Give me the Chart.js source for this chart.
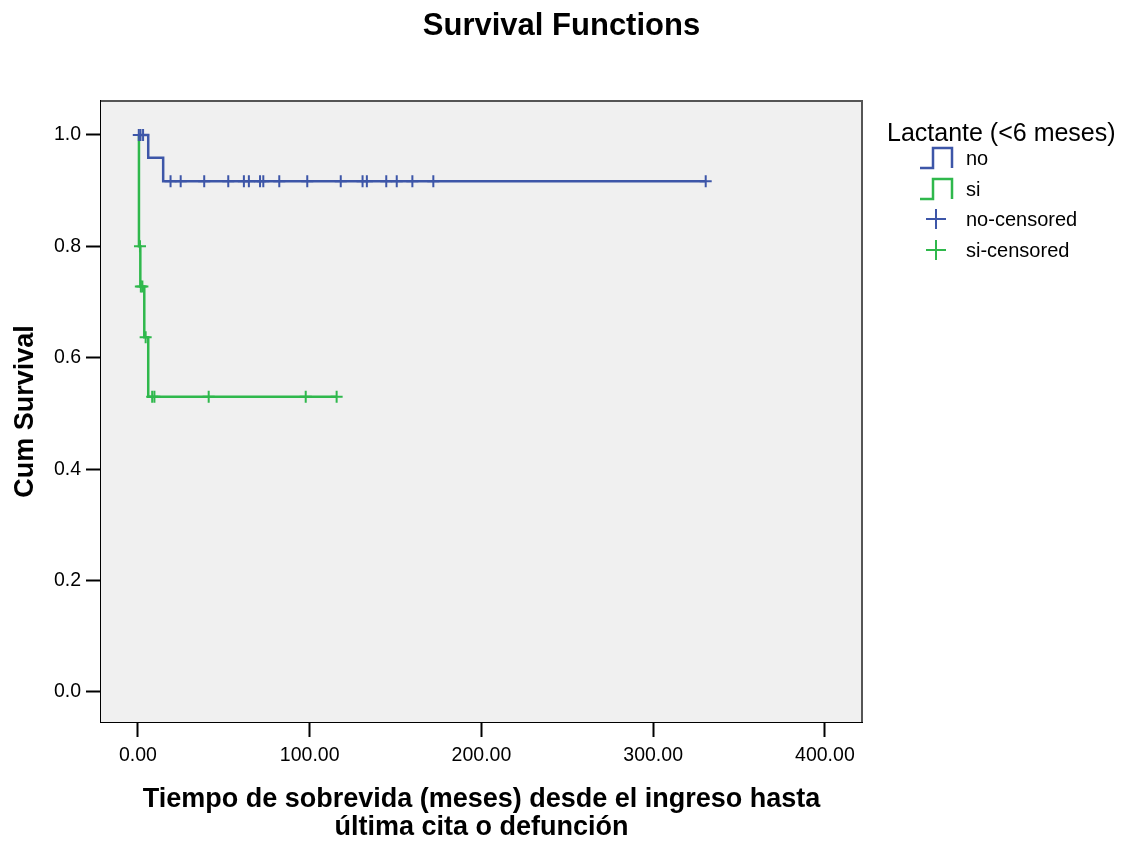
<!DOCTYPE html>
<html>
<head>
<meta charset="utf-8">
<script src="https://cdn.jsdelivr.net/npm/chart.js@4"></script>
<style>
body { margin: 0; background: #fff; }
#wrap { position: relative; width: 1123px; height: 847px; font-family: 'Liberation Sans', Arial, sans-serif; }
#legend { position: absolute; left: 887px; top: 0; color: #000; }
#legend .ttl { position: absolute; left: 0; top: 116px; font-size: 25px; line-height: 32px; white-space: nowrap; }
#legend .row { position: absolute; left: 31px; height: 30px; display: flex; align-items: center; font-size: 20px; white-space: nowrap; }
#legend svg { width: 48px; height: 30px; display: block; }
</style>
</head>
<body>
<div id="wrap">
  <canvas id="km" width="1123" height="847"></canvas>
  <div id="legend"></div>
</div>
<script>
// Kaplan-Meier step points (time, survival after the step)
const noStepTime = [0, 6.0, 14.7, 330.6];
const noStepSurv = [1.0, 0.959, 0.917, 0.917];
const siStepTime = [0, 0.6, 1.4, 3.7, 6.0, 115.7];
const siStepSurv = [1.0, 0.8, 0.728, 0.637, 0.530, 0.530];

// censored cases
const noCensTime = [0.5, 1.5, 3.0, 19.0, 24.9, 38.6, 52.6, 61.7, 64.6, 71.1, 73.0, 82.3, 98.6, 118.1, 130.8, 133.3, 144.6, 150.7, 159.8, 172.0, 330.6];
const noCensSurv = [1.0, 1.0, 1.0, 0.917, 0.917, 0.917, 0.917, 0.917, 0.917, 0.917, 0.917, 0.917, 0.917, 0.917, 0.917, 0.917, 0.917, 0.917, 0.917, 0.917, 0.917];
const siCensTime = [1.2, 1.7, 2.6, 4.5, 8.3, 9.6, 41.2, 97.7, 115.7];
const siCensSurv = [0.8, 0.728, 0.728, 0.637, 0.530, 0.530, 0.530, 0.530, 0.530];

const xTicks = [0, 100, 200, 300, 400];
const yTicks = [0.0, 0.2, 0.4, 0.6, 0.8, 1.0];

const legendTitle = 'Lactante (<6 meses)';
const legendLabels = ['no', 'si', 'no-censored', 'si-censored'];

const BLUE = '#3d56a8';
const GREEN = '#2fb84c';
const FONT = "'Liberation Sans', Arial, sans-serif";

const pts = (xs, ys) => xs.map((x, i) => ({ x: x, y: ys[i] }));

const plotBox = {
	id: 'plotBox',
	beforeDatasetsDraw(chart) {
		const { ctx, chartArea: a } = chart;
		ctx.save();
		ctx.fillStyle = '#f0f0f0';
		ctx.fillRect(a.left, a.top, a.right - a.left, a.bottom - a.top);
		ctx.strokeStyle = '#555';
		ctx.lineWidth = 2;
		ctx.beginPath();
		ctx.moveTo(a.left, a.top);
		ctx.lineTo(a.right, a.top);
		ctx.lineTo(a.right, a.bottom);
		ctx.stroke();
		ctx.restore();
	}
};

new Chart(document.getElementById('km'), {
	type: 'scatter',
	data: {
		datasets: [
			{ data: pts(noCensTime, noCensSurv), pointStyle: 'cross', pointRadius: 6, borderColor: BLUE, borderWidth: 2, backgroundColor: BLUE },
			{ data: pts(noStepTime, noStepSurv), showLine: true, stepped: 'before', pointRadius: 0, borderColor: BLUE, borderWidth: 2.5 },
			{ data: pts(siCensTime, siCensSurv), pointStyle: 'cross', pointRadius: 6, borderColor: GREEN, borderWidth: 2, backgroundColor: GREEN },
			{ data: pts(siStepTime, siStepSurv), showLine: true, stepped: 'before', pointRadius: 0, borderColor: GREEN, borderWidth: 2.5 }
		]
	},
	options: {
		responsive: false,
		animation: false,
		layout: { padding: 0 },
		plugins: {
			legend: { display: false },
			tooltip: { enabled: false },
			title: {
				display: true,
				text: 'Survival Functions',
				color: '#000',
				font: { family: FONT, size: 31, weight: 'bold', lineHeight: 1.2 },
				padding: { top: 7.4, bottom: 56.4 }
			}
		},
		scales: {
			x: {
				type: 'linear',
				min: -21.5,
				max: 421.6,
				afterBuildTicks: s => { s.ticks = xTicks.map(v => ({ value: v })); },
				afterFit: s => { s.height = 125; },
				ticks: { color: '#000', padding: 7, maxRotation: 0, font: { family: FONT, size: 19.5 }, callback: v => v.toFixed(2) },
				grid: { display: true, drawOnChartArea: false, drawTicks: true, tickLength: 15, tickColor: '#000', tickWidth: 2 },
				border: { display: true, color: '#000', width: 2 },
				title: {
					display: true,
					text: ['Tiempo de sobrevida (meses) desde el ingreso hasta', 'última cita o defunción'],
					color: '#000',
					font: { family: FONT, size: 27, weight: 'bold', lineHeight: 1.05 },
					padding: { top: 0, bottom: 4.8 }
				}
			},
			y: {
				type: 'linear',
				min: -0.054,
				max: 1.061,
				afterBuildTicks: s => { s.ticks = yTicks.map(v => ({ value: v })); },
				afterFit: s => { s.width = 101; },
				ticks: { color: '#000', padding: 5, font: { family: FONT, size: 19.5 }, callback: v => v.toFixed(1) },
				grid: { display: true, drawOnChartArea: false, drawTicks: true, tickLength: 15, tickColor: '#000', tickWidth: 2 },
				border: { display: true, color: '#000', width: 2 },
				title: {
					display: true,
					text: 'Cum Survival',
					color: '#000',
					font: { family: FONT, size: 27, weight: 'bold', lineHeight: 1.2 },
					padding: { top: 9, bottom: 0 }
				}
			},
			// empty axis that keeps room for the legend on the right
			side: {
				type: 'linear',
				position: 'right',
				display: true,
				afterFit: s => { s.width = 261; },
				ticks: { display: false },
				grid: { display: false },
				border: { display: false }
			}
		}
	},
	plugins: [plotBox]
});

// legend drawn beside the plot
const uiLegend = document.getElementById('legend');
const rowCenters = [158, 189, 219, 250];
const icons = [
	`<path d="M2 25 H15 V5 H34 V25" fill="none" stroke="${BLUE}" stroke-width="2.5"/>`,
	`<path d="M2 25 H15 V5 H34 V25" fill="none" stroke="${GREEN}" stroke-width="2.5"/>`,
	`<path d="M8 15 H28 M18 5 V25" fill="none" stroke="${BLUE}" stroke-width="2"/>`,
	`<path d="M8 15 H28 M18 5 V25" fill="none" stroke="${GREEN}" stroke-width="2"/>`
];
let html = `<div class="ttl">${legendTitle.replace('<', '&lt;')}</div>`;
legendLabels.forEach((lab, i) => {
	html += `<div class="row" style="top:${rowCenters[i] - 15}px"><svg viewBox="0 0 48 30">${icons[i]}</svg><span>${lab}</span></div>`;
});
uiLegend.innerHTML = html;
</script>
</body>
</html>
